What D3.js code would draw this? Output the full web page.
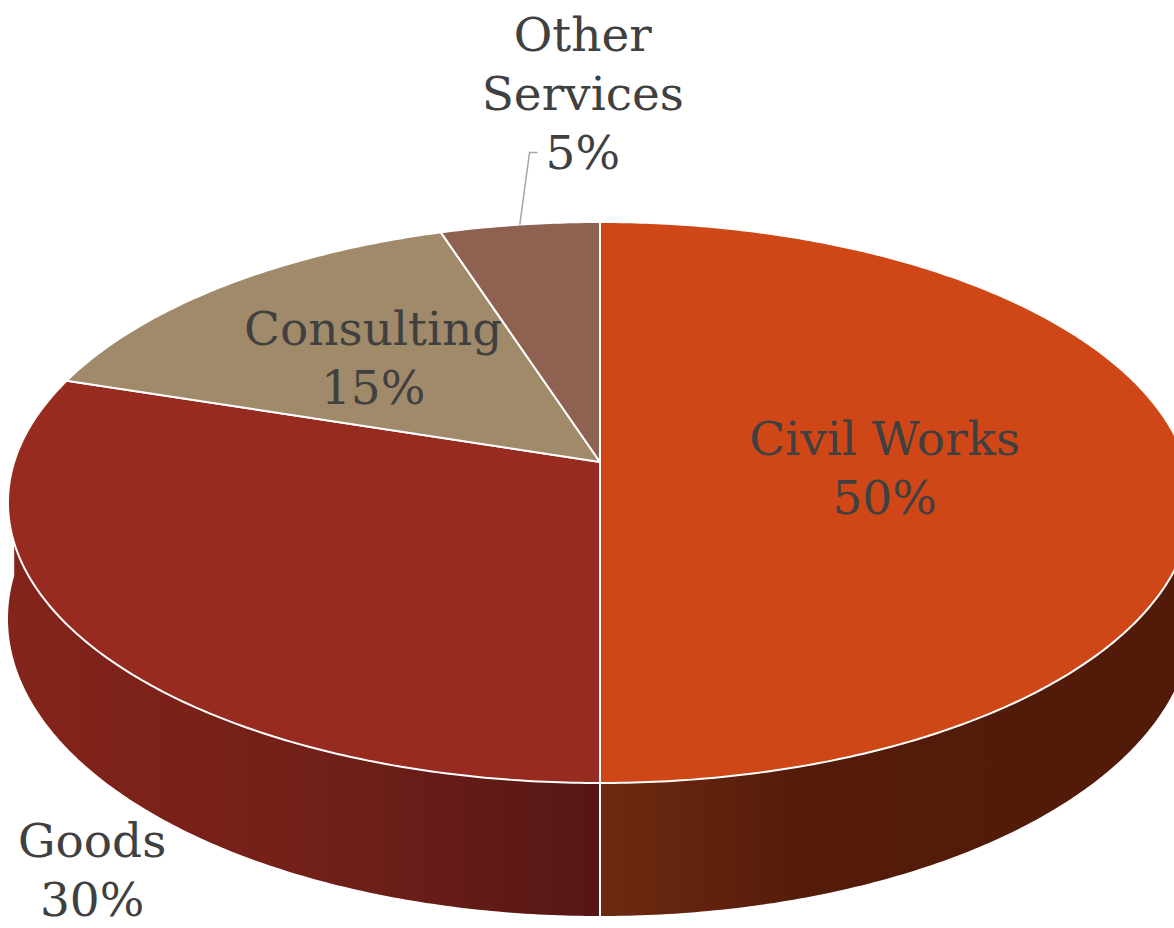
<!DOCTYPE html>
<html>
<head>
<meta charset="utf-8">
<script src="https://cdn.jsdelivr.net/npm/d3@7"></script>
<style>
    html, body { margin: 0; padding: 0; background: #ffffff; overflow: hidden; }
    svg { display: block; }
</style>
</head>
<body>
<div id="chart"></div>
<script>

// data
var categories = [ 'Civil Works', 'Goods', 'Consulting', 'Other Services' ];
var shares = [ 50, 30, 15, 5 ];

var topColors = [ '#D04717', '#982B20', '#A08A6A', '#8F6150' ];
var wallColors = [ [ '#6E2A10', '#541B0A', '#511A09' ], [ '#84241A', '#6E1F19', '#561614' ], [ '#6b5a44', '#5a4a38', '#4a3c2e' ], [ '#5e3d32', '#4e3228', '#40281f' ] ];

var width = 1174,
    height = 928;

// perspective projection of the pie disc (fitted to the picture)
var cx = 600,
    k = 585.8,
    pa = 207.95,
    pb = 462,
    pc = -0.1444,
    depth = 113.8;

function proj ( r, theta, z ) {
    var u = r * Math.sin( theta ),
        v = -r * Math.cos( theta ),
        d = 1 + pc * v;
    return [ cx + k * u / d, ( pa * v + pb ) / d + z * depth / d ];
}

function arcPoints ( a0, a1, z ) {
    var n = Math.max( 2, Math.ceil( ( a1 - a0 ) / 0.01 ) ),
        pts = [];
    for ( var i = 0; i <= n; i++ ) {
        pts.push( proj( 1, a0 + ( a1 - a0 ) * i / n, z ) );
    }
    return pts;
}

var line = d3.line();

var pie = d3.pie()
    .sort( null )
    .startAngle( 0 )
    .endAngle( 2 * Math.PI )
    .value( function ( d ) { return d.value; } );

var data = categories.map( function ( c, i ) {
    return { name: c, value: shares[ i ], color: topColors[ i ], wall: wallColors[ i ] };
});

var arcs = pie( data );

var svg = d3.select( '#chart' ).append( 'svg' )
    .attr( 'width', width )
    .attr( 'height', height );

var defs = svg.append( 'defs' );

// walls (front half only)
var wallMin = Math.PI / 2,
    wallMax = 3 * Math.PI / 2;

arcs.forEach( function ( d, i ) {

    var a0 = Math.max( d.startAngle, wallMin ),
        a1 = Math.min( d.endAngle, wallMax );

    if ( a1 <= a0 ) return;

    var top = arcPoints( a0, a1, 0 ),
        bottom = arcPoints( a0, a1, 1 ).reverse();

    var xs = top.map( function ( p ) { return p[ 0 ]; } ),
        x0 = d3.min( xs ),
        x1 = d3.max( xs );

    var grad = defs.append( 'linearGradient' )
        .attr( 'id', 'wall' + i )
        .attr( 'gradientUnits', 'userSpaceOnUse' )
        .attr( 'x1', x0 ).attr( 'x2', x1 )
        .attr( 'y1', 0 ).attr( 'y2', 0 );

    var stops = d.data.wall;
    // civil works darkens towards the right, goods darkens towards the centre
    var offsets = d.startAngle < Math.PI ? [ 0, 0.35, 1 ] : [ 0, 0.6, 1 ];

    stops.forEach( function ( c, j ) {
        grad.append( 'stop' ).attr( 'offset', offsets[ j ] ).attr( 'stop-color', c );
    });

    svg.append( 'path' )
        .attr( 'd', line( top.concat( bottom ) ) + 'Z' )
        .style( 'fill', 'url(#wall' + i + ')' );

    // white seam at the slice edges on the wall
    [ d.startAngle, d.endAngle ].forEach( function ( a ) {
        if ( a > wallMin + 0.01 && a < wallMax - 0.01 ) {
            svg.append( 'path' )
                .attr( 'd', line( [ proj( 1, a, 0 ), proj( 1, a, 1 ) ] ) )
                .style( 'stroke', '#ffffff' )
                .style( 'stroke-width', 2 )
                .style( 'fill', 'none' );
        }
    });

});

// top faces
arcs.forEach( function ( d ) {

    var pts = [ proj( 0, 0, 0 ) ].concat( arcPoints( d.startAngle, d.endAngle, 0 ) );

    svg.append( 'path' )
        .attr( 'd', line( pts ) + 'Z' )
        .style( 'fill', d.data.color )
        .style( 'stroke', '#ffffff' )
        .style( 'stroke-width', 2 )
        .style( 'stroke-linejoin', 'round' );

});

// labels
var labelLayout = {
    'Civil Works':    { r: 0.486, dx: 0,  dy: -7,   wrap: false },
    'Goods':          { r: 1,     dx: 10, dy: 219,  wrap: false },
    'Consulting':     { r: 0.58,  dx: 0,  dy: -11,  wrap: false },
    'Other Services': { r: 1,     dx: 63, dy: -174, wrap: true }
};

var lineHeight = 59;

arcs.forEach( function ( d ) {

    var lay = labelLayout[ d.data.name ],
        mid = ( d.startAngle + d.endAngle ) / 2,
        anchor = proj( lay.r, mid, 0 ),
        lx = anchor[ 0 ] + lay.dx,
        ly = anchor[ 1 ] + lay.dy;

    var lines = lay.wrap ? d.data.name.split( ' ' ) : [ d.data.name ];
    lines.push( d.data.value + '%' );

    var text = svg.append( 'text' )
        .attr( 'text-anchor', 'middle' )
        .style( 'font-family', '"DejaVu Serif", serif' )
        .style( 'font-size', '47px' )
        .style( 'fill', '#404040' );

    lines.forEach( function ( t, j ) {
        text.append( 'tspan' )
            .attr( 'x', lx )
            .attr( 'y', ly + j * lineHeight )
            .text( t );
    });

    // leader line for the label outside the top face
    if ( lay.wrap ) {
        var last = text.selectAll( 'tspan' ).nodes().pop(),
            w = last.getComputedTextLength(),
            ey = ly + ( lines.length - 1 ) * lineHeight - 16,
            ex = lx - w / 2 - 8;

        svg.append( 'path' )
            .attr( 'd', line( [ anchor, [ ex - 8, ey ], [ ex, ey ] ] ) )
            .style( 'fill', 'none' )
            .style( 'stroke', '#a6a6a6' )
            .style( 'stroke-width', 1.5 );
    }

});

</script>
</body>
</html>
